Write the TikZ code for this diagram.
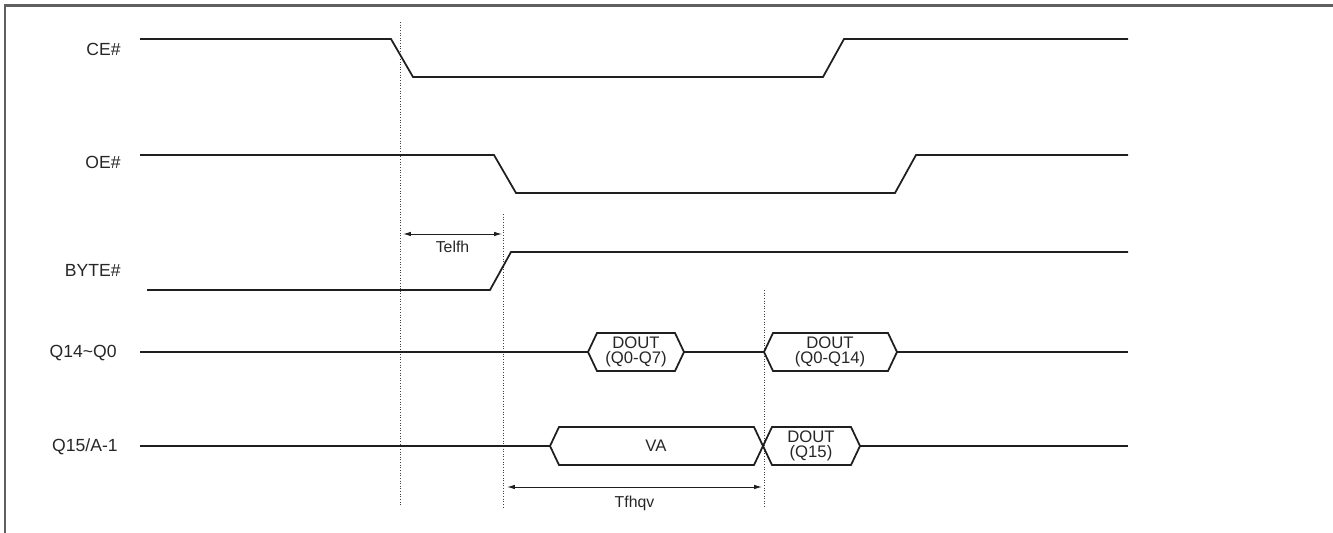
\documentclass[tikz,border=0pt]{standalone}
\usepackage{fontspec}
\setmainfont{Liberation Sans}
\usetikzlibrary{calc,arrows.meta,positioning}

\begin{document}
\begin{tikzpicture}[x=0.02cm,y=-0.02cm,
		sig/.style={black!88,line width=1pt,line join=miter},
		guide/.style={black!75,densely dotted,line width=0.5pt},
		span/.style={<->,>={Latex[length=4.5pt,width=2.6pt]},black!88,line width=0.55pt},
		signame/.style={anchor=base east,inner sep=0pt,text=black!85,font=\fontsize{10}{12}\selectfont},
		buslabel/.style={align=center,inner sep=0pt,text=black!85,font=\fontsize{9.5}{8.2}\selectfont},
		tlabel/.style={inner sep=0pt,text=black!85,font=\fontsize{9}{10}\selectfont}]
	
	\useasboundingbox (0,0) rectangle (1333,533);
	
	% frame
	\draw[gray!75!black,line width=1.5pt] (5,533) -- (5,5.5) -- (1333,5.5);
	
	% signal names
	\node[signame] (ce)  at (121,56)  {CE\#};
	\node[signame] (oe)  at (121,169) {OE\#};
	\node[signame] (byte) at (121,277) {BYTE\#};
	\node[signame] (qlo) at (117,358) {Q14\textasciitilde Q0};
	\node[signame] (qhi) at (118,452) {Q15/A-1};
	
	% guide lines
	\draw[guide] (400,22) -- (400,505);
	\draw[guide] (503,214) -- (503,508);
	\draw[guide] (764,290) -- (764,508);
	
	% CE#, OE#, BYTE#
	\draw[sig] (140,39) -- (391,39) -- (413,77) -- (823,77) -- (844,39) -- (1128,39);
	\draw[sig] (140,155) -- (494,155) -- (516,193) -- (895,193) -- (916,155) -- (1128,155);
	\draw[sig] (147,290) -- (490,290) -- (511,252) -- (1128,252);
	
	% Q14~Q0
	\draw[sig] (140,352) -- (588,352) (684,352) -- (764,352) (897,352) -- (1128,352);
	\draw[sig] (588,352) -- (597,333) -- (675,333) -- (684,352) -- (675,371) -- (597,371) -- cycle;
	\node[buslabel] (d07) at (636,352) {DOUT\\(Q0-Q7)};
	\draw[sig] (764,352) -- (773,333) -- (888,333) -- (897,352) -- (888,371) -- (773,371) -- cycle;
	\node[buslabel] (d014) at (830,352) {DOUT\\(Q0-Q14)};
	
	% Q15/A-1
	\draw[sig] (140,446) -- (550,446) (860,446) -- (1128,446);
	\draw[sig] (550,446) -- (559,427) -- (754,427) -- (763,446) -- (754,465) -- (559,465) -- cycle;
	\node[buslabel] (va) at (656,446) {VA};
	\draw[sig] (763,446) -- (772,427) -- (851,427) -- (860,446) -- (851,465) -- (772,465) -- cycle;
	\node[buslabel] (d15) at (811,446) {DOUT\\(Q15)};
	
	% timings
	\coordinate (elfhA) at (403,234);
	\coordinate (elfhB) at (502,234);
	\draw[span] (elfhA) -- (elfhB);
	\node[tlabel,below=4pt of $(elfhA)!0.5!(elfhB)$] (telfh) {Telfh};
	
	\coordinate (fhqvA) at (507,487);
	\coordinate (fhqvB) at (762,487);
	\draw[span] (fhqvA) -- (fhqvB);
	\node[tlabel,below=5pt of $(fhqvA)!0.5!(fhqvB)$] (tfhqv) {Tfhqv};
	
\end{tikzpicture}
\end{document}
